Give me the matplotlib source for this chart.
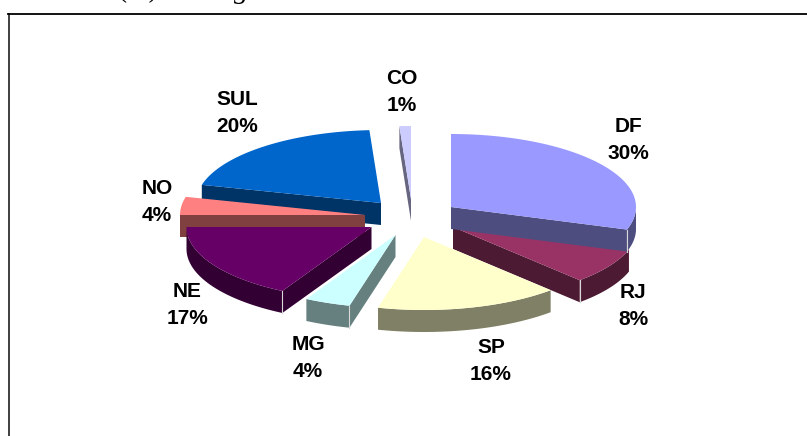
import numpy as np
import matplotlib
matplotlib.use('Agg')
import matplotlib.pyplot as plt

# pie slices, clockwise from 12 o'clock
regions = ['DF', 'RJ', 'SP', 'MG', 'NE', 'NO', 'SUL', 'CO']
shares = [30, 8, 16, 4, 17, 4, 20, 1]

# exploded centre of each slice, pixels
centres = [(451, 207), (453, 227), (424, 237), (395.5, 235),
           (371.5, 227), (365, 215), (381, 203), (411, 199)]
label_pos = [(628, 140), (633, 306), (491, 361), (308, 358),
             (187, 305), (157, 202), (237, 113), (402, 92)]

top_colors = ['#9999FF', '#993366', '#FFFFCC', '#CCFFFF',
              '#660066', '#FF8080', '#0066CC', '#CCCCFF']
side_colors = ['#4D4D80', '#4D1A33', '#808066', '#668080',
               '#330033', '#804040', '#003366', '#666680']
draw_order = ['CO', 'SUL', 'NO', 'NE', 'RJ', 'DF', 'SP', 'MG']

rx = 185
ry = 73
depth = 22


def rim(cx, cy, a0, a1):
    t = np.radians(np.linspace(a0, a1, 60))
    return cx + rx * np.sin(t), cy - ry * np.cos(t)


def draw_slice(ax, cx, cy, a0, a1, top, side):
    # outer wall, only the front half of the ellipse shows
    f0, f1 = max(a0, 90), min(a1, 270)
    if f1 > f0:
        x, y = rim(cx, cy, f0, f1)
        ax.fill(np.r_[x, x[::-1]], np.r_[y, y[::-1] + depth], color=side, lw=0)
    # cut faces
    for ang, show in [(a0, np.sin(np.radians(a0)) < -1e-6), (a1, np.sin(np.radians(a1)) > 1e-6)]:
        if show:
            ex = cx + rx * np.sin(np.radians(ang))
            ey = cy - ry * np.cos(np.radians(ang))
            ax.fill([cx, ex, ex, cx], [cy, ey, ey + depth, cy + depth], color=side, lw=0)
            if 100 < ang < 270:
                ax.plot([ex, ex], [ey, ey + depth], color='#D8D8D8', lw=0.8)
    x, y = rim(cx, cy, a0, a1)
    ax.fill(np.r_[cx, x], np.r_[cy, y], color=top, lw=0)


fig = plt.figure(figsize=(8.07, 4.36), dpi=100)
ax = fig.add_axes([0, 0, 1, 1])
ax.set_xlim(0, 807)
ax.set_ylim(436, 0)
ax.axis('off')

# box round the chart, right and bottom sides are cut off
ax.plot([8.5, 8.5], [436, 14.5], color='#303030', lw=1.3)
ax.plot([8, 807], [14.5, 14.5], color='black', lw=1.3)

edges = np.r_[0, np.cumsum(shares)] * 3.6
for name in draw_order:
    i = regions.index(name)
    draw_slice(ax, centres[i][0], centres[i][1], edges[i], edges[i + 1],
               top_colors[i], side_colors[i])

for i, name in enumerate(regions):
    ax.text(label_pos[i][0], label_pos[i][1], '%s\n%d%%' % (name, shares[i]),
            ha='center', va='center', family='Liberation Sans', weight='bold',
            fontsize=15, linespacing=1.48, color='black')

# bottom of the caption line above the chart, cropped in the scan
ax.text(118, -2.5, '(%)', family='Liberation Serif', fontsize=19.5, va='baseline', clip_on=False)
ax.text(234, -2, 'g', family='Liberation Serif', style='italic', fontsize=21, va='baseline', clip_on=False)

fig.savefig('out.png', dpi=100)
